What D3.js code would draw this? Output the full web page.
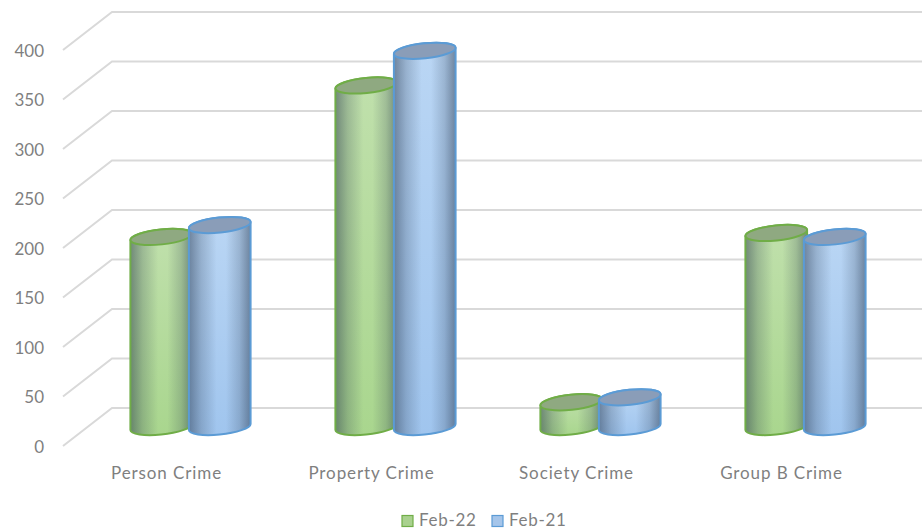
<!DOCTYPE html>
<html>
<head>
<meta charset="utf-8">
<script src="https://cdn.jsdelivr.net/npm/d3@7"></script>
<style>
  html, body { margin: 0; padding: 0; background: #fff; }
  text { font-family: Lato, "Open Sans", sans-serif; fill: #7f7f7f; }
</style>
</head>
<body>
<div id="chart"></div>
<script>
var categories = ["Person Crime", "Property Crime", "Society Crime", "Group B Crime"];
var seriesNames = ["Feb-22", "Feb-21"];
var feb22 = [192, 345, 25, 196];
var feb21 = [204, 380, 30, 192];
var yTicks = [0, 50, 100, 150, 200, 250, 300, 350, 400];

var seriesColors = {
    "Feb-22": { edge: "#70ad47", cap: "#8fa981", top: "#c0e0ac", bottom: "#a9d68e", swatch: "#a9d18e" },
    "Feb-21": { edge: "#5b9bd5", cap: "#8a9db8", top: "#bad6f4", bottom: "#a0c5ee", swatch: "#a5c5ea" }
};

var w = 922, h = 531;
var depthX = 49, depthY = 38;

var svg = d3.select("#chart").append("svg")
    .attr("width", w)
    .attr("height", h);

// front of the floor and the mid plane where the cylinders stand
var yFront = d3.scaleLinear().domain([0, 400]).range([446, 50]);
var yMid = d3.scaleLinear().domain([0, 400]).range([427, 31]);
var x0 = d3.scaleBand().domain(categories).range([88, 908]);
var x1 = d3.scaleBand().domain(seriesNames).range([-58.5, 58.5]);

var defs = svg.append("defs");
seriesNames.forEach(function(name, i) {
    var c = seriesColors[name];
    var v = defs.append("linearGradient").attr("id", "fill" + i)
        .attr("x1", 0).attr("y1", 0).attr("x2", 0).attr("y2", 1);
    v.append("stop").attr("offset", "0%").attr("stop-color", c.top);
    v.append("stop").attr("offset", "100%").attr("stop-color", c.bottom);
});
var shade = defs.append("linearGradient").attr("id", "shade");
[[0, 0.5], [0.2, 0.22], [0.45, 0], [0.6, 0], [0.82, 0.2], [1, 0.5]].forEach(function(s) {
    shade.append("stop").attr("offset", s[0]).attr("stop-color", "#24344a").attr("stop-opacity", s[1]);
});

// grid lines
var grid = svg.append("g");
yTicks.forEach(function(t) {
    var y = yFront(t);
    grid.append("path")
        .attr("d", d3.line()([[63, y], [63 + depthX, y - depthY], [w, y - depthY]]))
        .attr("fill", "none")
        .attr("stroke", "#d9d9d9")
        .attr("stroke-width", 2);
});

svg.append("g").selectAll("text")
    .data(yTicks)
    .enter()
    .append("text")
    .attr("x", 44)
    .attr("y", function(d) { return yFront(d) + 2.5; })
    .attr("text-anchor", "end")
    .attr("dominant-baseline", "middle")
    .attr("font-size", 17)
    .text(function(d) { return d; });

svg.append("g").selectAll("text")
    .data(categories)
    .enter()
    .append("text")
    .attr("x", function(d) { return x0(d) + x0.bandwidth() / 2 - 24; })
    .attr("y", 475)
    .attr("text-anchor", "middle")
    .attr("dominant-baseline", "middle")
    .attr("font-size", 17)
    .attr("letter-spacing", 0.9)
    .text(function(d) { return d; });

// tilted ellipse of the cylinders
var tiltDeg = -6;
var rx = 31, ry = 7.5, tilt = tiltDeg * Math.PI / 180;
var dx = Math.sqrt(rx * rx * Math.cos(tilt) * Math.cos(tilt) + ry * ry * Math.sin(tilt) * Math.sin(tilt));
var dy = (rx * rx - ry * ry) * Math.sin(tilt) * Math.cos(tilt) / dx;

function cylinderPath(cx, top, base) {
    var a = "A" + rx + " " + ry + " " + tiltDeg + " ";
    return "M" + (cx - dx) + " " + (top - dy) +
        "L" + (cx - dx) + " " + (base - dy) +
        a + "0 0 " + (cx + dx) + " " + (base + dy) +
        "L" + (cx + dx) + " " + (top + dy) +
        a + "0 0 " + (cx - dx) + " " + (top - dy) + "Z";
}

var allValues = [feb22, feb21];
categories.forEach(function(cat, ci) {
    seriesNames.forEach(function(name, si) {
        var c = seriesColors[name];
        var cx = x0(cat) + x0.bandwidth() / 2 + x1(name) + x1.bandwidth() / 2;
        var top = yMid(allValues[si][ci]);
        var base = yMid(0);
        var g = svg.append("g");
        g.append("path").attr("d", cylinderPath(cx, top, base))
            .attr("fill", "url(#fill" + si + ")");
        g.append("path").attr("d", cylinderPath(cx, top, base))
            .attr("fill", "url(#shade)")
            .attr("stroke", c.edge)
            .attr("stroke-width", 2);
        g.append("ellipse")
            .attr("cx", cx).attr("cy", top)
            .attr("rx", rx).attr("ry", ry)
            .attr("transform", "rotate(" + tiltDeg + " " + cx + " " + top + ")")
            .attr("fill", c.cap)
            .attr("stroke", c.edge)
            .attr("stroke-width", 2);
    });
});

// legend
var legendX = d3.scaleOrdinal().domain(seriesNames).range([402, 492]);
var legend = svg.append("g").selectAll("g")
    .data(seriesNames)
    .enter()
    .append("g");
legend.append("rect")
    .attr("x", function(d) { return legendX(d); })
    .attr("y", 515.5)
    .attr("width", 11)
    .attr("height", 11)
    .attr("fill", function(d) { return seriesColors[d].swatch; })
    .attr("stroke", function(d) { return seriesColors[d].edge; })
    .attr("stroke-width", 1.2);
legend.append("text")
    .attr("x", function(d) { return legendX(d) + 17; })
    .attr("y", 522)
    .attr("dominant-baseline", "middle")
    .attr("font-size", 17)
    .attr("letter-spacing", 0.7)
    .text(function(d) { return d; });
</script>
</body>
</html>
